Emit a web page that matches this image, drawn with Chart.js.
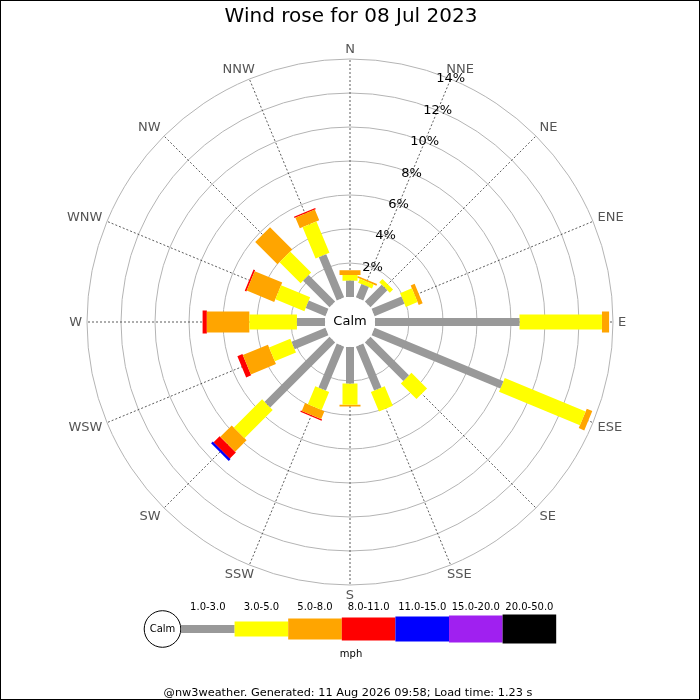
<!DOCTYPE html>
<html lang="en">
  <head>
    <meta charset="UTF-8" />
    <meta name="viewport" content="width=device-width, initial-scale=1.0" />
    <script src="https://cdn.jsdelivr.net/npm/chart.js"></script>
    <title>Wind rose</title>
    <style>
      body { margin: 0; background: #fff; }
      #box { width: 700px; height: 700px; position: relative; }
    </style>
  </head>
  <body>
    <div id="box"><canvas id="rose"></canvas></div>
    <script>
      const directions = ['N', 'NNE', 'NE', 'ENE', 'E', 'ESE', 'SE', 'SSE', 'S', 'SSW', 'SW', 'WSW', 'W', 'WNW', 'NW', 'NNW'];
      const speedClasses = ['1.0-3.0', '3.0-5.0', '5.0-8.0', '8.0-11.0', '11.0-15.0', '15.0-20.0', '20.0-50.0'];
      // % of the day for each direction, one array per speed band (mph)
      const band1to3 = [0.95, 0.85, 1.4, 1.9, 8.5, 8.2, 3.2, 2.8, 2.15, 2.8, 5.4, 2.15, 1.65, 1.25, 2.2, 2.75];
      const band3to5 = [0.35, 0.25, 0.27, 0.75, 4.85, 5.15, 1.3, 1.25, 1.25, 1.15, 2.35, 1.35, 2.8, 1.85, 1.75, 2.0];
      const band5to8 = [0.28, 0.1, 0, 0.25, 0.42, 0.35, 0, 0, 0.1, 0.5, 0.95, 1.6, 2.5, 1.75, 1.85, 0.68];
      const band8to11 = [0, 0, 0, 0, 0, 0, 0, 0, 0, 0.08, 0.5, 0.32, 0.25, 0.1, 0, 0.08];
      const band11to15 = [0, 0, 0, 0, 0, 0, 0, 0, 0, 0, 0.15, 0, 0, 0, 0, 0];
      const band15to20 = [0, 0, 0, 0, 0, 0, 0, 0, 0, 0, 0, 0, 0, 0, 0, 0];
      const band20to50 = [0, 0, 0, 0, 0, 0, 0, 0, 0, 0, 0, 0, 0, 0, 0, 0];
      const ringTicks = [2, 4, 6, 8, 10, 12, 14];

      const bands = [band1to3, band3to5, band5to8, band8to11, band11to15, band15to20, band20to50];
      const bandColours = ['#999999', '#ffff00', '#ffa500', '#ff0000', '#0000ff', '#a020f0', '#000000'];
      const bandWidths = [8, 15, 21, 23, 25, 27, 29];
      const calmOffset = 25 / 17; // radius of calm circle, in % units
      const span = 17;
      const FONT = "'DejaVu Sans', sans-serif";

      // one line dataset per speed band, each bar a 2-point segment, gaps between
      const datasets = bands.map((band, k) => {
        const pts = [];
        directions.forEach((d, i) => {
          if (!band[i]) return;
          let start = calmOffset;
          for (let j = 0; j < k; j++) start += bands[j][i];
          const end = start + band[i];
          const a = i * Math.PI / 8;
          pts.push({ x: start * Math.sin(a), y: start * Math.cos(a) });
          pts.push({ x: end * Math.sin(a), y: end * Math.cos(a) });
          pts.push({ x: null, y: null });
        });
        return {
          label: speedClasses[k],
          data: pts,
          showLine: true,
          spanGaps: false,
          borderColor: bandColours[k],
          borderWidth: bandWidths[k],
          borderCapStyle: 'butt',
          pointRadius: 0,
          pointHoverRadius: 0
        };
      });

      const clamp1 = v => Math.max(-1, Math.min(1, v));

      const roseDecor = {
        id: 'roseDecor',
        beforeDatasetsDraw(chart) {
          const ctx = chart.ctx;
          const xs = chart.scales.x, ys = chart.scales.y;
          const cx = xs.getPixelForValue(0), cy = ys.getPixelForValue(0);
          const k = xs.getPixelForValue(1) - cx;
          ctx.save();
          ctx.strokeStyle = '#b4b4b4';
          ctx.lineWidth = 1;
          ringTicks.forEach(v => {
            ctx.beginPath();
            ctx.arc(cx, cy, (calmOffset + v) * k, 0, Math.PI * 2);
            ctx.stroke();
          });
          const outer = (calmOffset + ringTicks[ringTicks.length - 1]) * k;
          ctx.strokeStyle = '#333';
          ctx.lineWidth = 0.8;
          ctx.setLineDash([2, 2]);
          directions.forEach((d, i) => {
            const a = i * Math.PI / 8;
            ctx.beginPath();
            ctx.moveTo(cx, cy);
            ctx.lineTo(cx + outer * Math.sin(a), cy - outer * Math.cos(a));
            ctx.stroke();
          });
          ctx.setLineDash([]);
          ctx.fillStyle = '#fff';
          ctx.beginPath();
          ctx.arc(cx, cy, calmOffset * k, 0, Math.PI * 2);
          ctx.fill();
          ctx.restore();
        },
        afterDraw(chart) {
          const ctx = chart.ctx;
          const xs = chart.scales.x, ys = chart.scales.y;
          const cx = xs.getPixelForValue(0), cy = ys.getPixelForValue(0);
          const k = xs.getPixelForValue(1) - cx;
          const outer = (calmOffset + ringTicks[ringTicks.length - 1]) * k;
          ctx.save();
          ctx.textAlign = 'center';
          ctx.textBaseline = 'middle';

          // centre
          ctx.fillStyle = '#000';
          ctx.font = '13px ' + FONT;
          ctx.fillText('Calm', cx, cy);

          // ring labels along NNE
          const ta = Math.PI / 8;
          ringTicks.forEach(v => {
            const r = (calmOffset + v) * k;
            ctx.fillText(v + '%', cx + r * Math.sin(ta), cy - r * Math.cos(ta));
          });

          // compass labels
          ctx.fillStyle = '#555';
          directions.forEach((d, i) => {
            const a = i * Math.PI / 8;
            const w = ctx.measureText(d).width;
            const r = outer + 5;
            const px = cx + r * Math.sin(a) + (w / 2) * clamp1(Math.sin(a) * Math.SQRT2);
            const py = cy - r * Math.cos(a) - 5 * clamp1(Math.cos(a) * Math.SQRT2);
            ctx.fillText(d, px, py + 0.5);
          });

          // title
          ctx.fillStyle = '#000';
          ctx.font = '20px ' + FONT;
          ctx.fillText('Wind rose for 08 Jul 2023', 351, 17);

          // legend
          const lx = 181, lw = 53.6, ly = 629;
          ctx.strokeStyle = '#000';
          ctx.lineWidth = 1;
          ctx.beginPath();
          ctx.arc(162.5, ly, 18.3, 0, Math.PI * 2);
          ctx.fillStyle = '#fff';
          ctx.fill();
          ctx.stroke();
          ctx.fillStyle = '#000';
          ctx.font = '10px ' + FONT;
          ctx.fillText('Calm', 162.5, ly);
          speedClasses.forEach((s, i) => {
            ctx.fillStyle = bandColours[i];
            ctx.fillRect(lx + i * lw, ly - bandWidths[i] / 2, lw, bandWidths[i]);
            ctx.fillStyle = '#000';
            ctx.fillText(s, lx + i * lw + lw / 2, 607.5);
          });
          ctx.fillText('mph', 351, 654);

          // footer
          ctx.font = '11.3px ' + FONT;
          ctx.fillText('@nw3weather. Generated: 11 Aug 2026 09:58; Load time: 1.23 s', 348, 693);

          // frame
          ctx.strokeRect(0.5, 0.5, 699, 699);
          ctx.restore();
        }
      };

      new Chart(document.getElementById('rose'), {
        type: 'scatter',
        data: { datasets: datasets },
        options: {
          responsive: true,
          maintainAspectRatio: false,
          animation: false,
          events: [],
          layout: { padding: { left: 61, right: 61, top: 33, bottom: 89 } },
          scales: {
            x: { type: 'linear', min: -span, max: span, display: false },
            y: { type: 'linear', min: -span, max: span, display: false }
          },
          plugins: {
            legend: { display: false },
            tooltip: { enabled: false }
          }
        },
        plugins: [roseDecor]
      });
    </script>
  </body>
</html>
